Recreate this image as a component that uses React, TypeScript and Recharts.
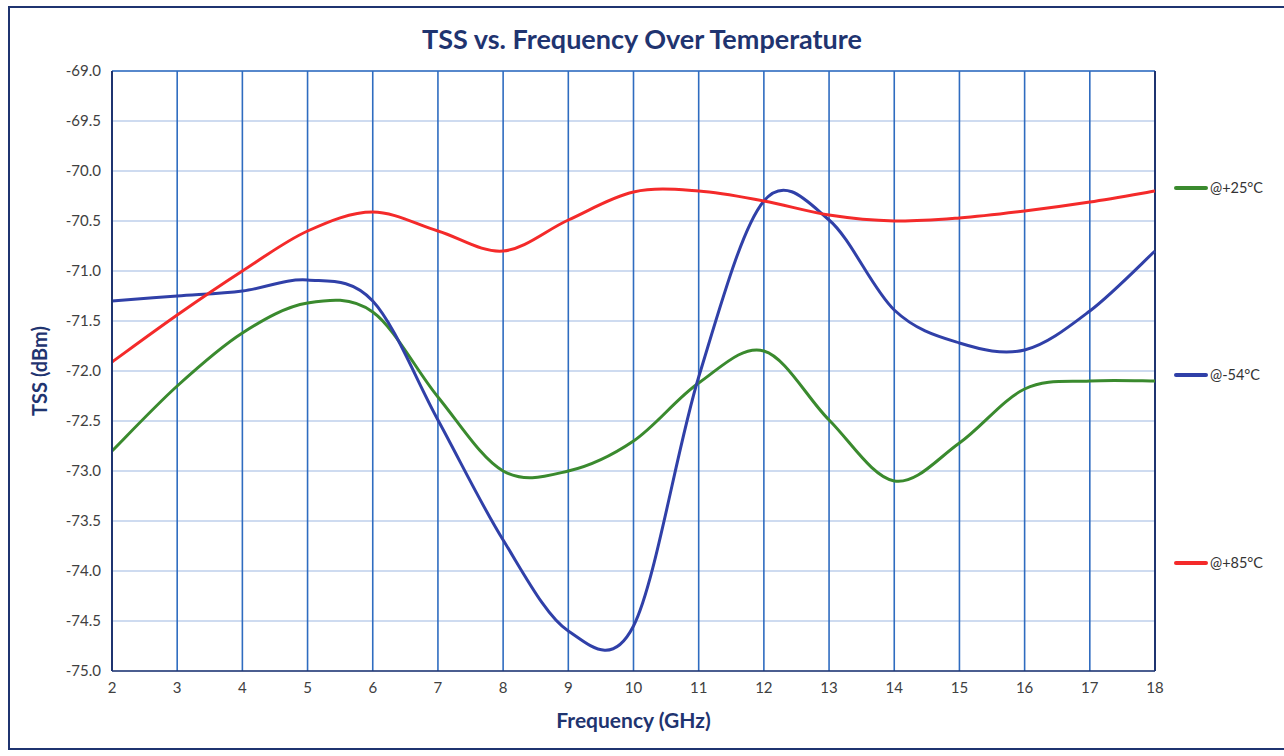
import React from "react";
import {
  LineChart, Line, XAxis, YAxis, CartesianGrid, Legend, ReferenceLine,
} from "recharts";

const freqGHz = [2, 3, 4, 5, 6, 7, 8, 9, 10, 11, 12, 13, 14, 15, 16, 17, 18];
const tssPlus25 = [-72.8, -72.15, -71.62, -71.32, -71.41, -72.26, -73.0, -73.0, -72.7, -72.12, -71.8, -72.49, -73.1, -72.72, -72.18, -72.1, -72.1];
const tssMinus54 = [-71.3, -71.25, -71.2, -71.09, -71.3, -72.49, -73.69, -74.6, -74.55, -72.06, -70.3, -70.49, -71.39, -71.72, -71.79, -71.4, -70.8];
const tssPlus85 = [-71.91, -71.44, -71.0, -70.6, -70.41, -70.6, -70.8, -70.49, -70.21, -70.2, -70.3, -70.44, -70.5, -70.47, -70.4, -70.31, -70.2];
const yTicks = [-75, -74.5, -74, -73.5, -73, -72.5, -72, -71.5, -71, -70.5, -70, -69.5, -69];

const series = [
  { key: "p25", name: "@+25°C", color: "#3a8a2e" },
  { key: "m54", name: "@-54°C", color: "#3040a8" },
  { key: "p85", name: "@+85°C", color: "#f42a2a" },
];

const data = freqGHz.map((f, i) => ({
  f,
  p25: tssPlus25[i],
  m54: tssMinus54[i],
  p85: tssPlus85[i],
}));

// Excel-style smoothed line (uniform Catmull-Rom through the points)
function smoothCurve(context: any) {
  let pts: [number, number][] = [];
  return {
    areaStart() {},
    areaEnd() {},
    lineStart() { pts = []; },
    point(x: number, y: number) { pts.push([+x, +y]); },
    lineEnd() {
      if (!pts.length) return;
      context.moveTo(pts[0][0], pts[0][1]);
      for (let i = 0; i < pts.length - 1; i++) {
        const p0 = pts[i - 1] || pts[i];
        const p1 = pts[i];
        const p2 = pts[i + 1];
        const p3 = pts[i + 2] || p2;
        context.bezierCurveTo(
          p1[0] + (p2[0] - p0[0]) / 6, p1[1] + (p2[1] - p0[1]) / 6,
          p2[0] - (p3[0] - p1[0]) / 6, p2[1] - (p3[1] - p1[1]) / 6,
          p2[0], p2[1],
        );
      }
    },
  };
}

const font = "Lato, 'Open Sans', sans-serif";
const navy = "#1f3470";

function SideLegend() {
  const tops = [179, 366, 554];
  return (
    <div style={{ position: "relative", width: 110, height: 756 }}>
      {series.map((s, i) => (
        <div key={s.key} style={{ position: "absolute", top: tops[i], left: 0, display: "flex", alignItems: "center", fontFamily: font, fontSize: 14.5, color: "#333" }}>
          <span style={{ display: "inline-block", width: 34, height: 4, background: s.color, borderRadius: 2, marginRight: 2 }} />
          {s.name}
        </div>
      ))}
    </div>
  );
}

export default function App() {
  return (
    <div style={{ position: "absolute", left: 0, top: 0, width: 1284, height: 756, background: "#fff" }}>
      <div style={{ position: "absolute", left: 8, top: 6, width: 1290, height: 740, border: `2px solid ${navy}` }} />
      <div style={{ position: "absolute", left: 0, top: 22, width: 1284, textAlign: "center", fontFamily: font, fontWeight: 700, fontSize: 27, color: navy }}>
        TSS vs. Frequency Over Temperature
      </div>
      <div style={{ position: "absolute", left: 0, top: 0 }}>
        <LineChart width={1284} height={756} data={data} margin={{ top: 71, right: 19, bottom: 55, left: 20 }}>
          <CartesianGrid vertical={false} stroke="#9db8e2" strokeWidth={1.2} />
          <CartesianGrid horizontal={false} stroke="#2f6cc0" strokeWidth={1.6} />
          <XAxis
            dataKey="f"
            type="number"
            domain={[2, 18]}
            ticks={freqGHz}
            height={30}
            tickLine={false}
            tickMargin={5}
            axisLine={{ stroke: navy, strokeWidth: 1.5 }}
            tick={{ fontSize: 15, fill: "#404040", fontFamily: font }}
            label={{ value: "Frequency (GHz)", position: "bottom", offset: 12, style: { fontFamily: font, fontWeight: 700, fontSize: 21, fill: navy } }}
          />
          <YAxis
            domain={[-75, -69]}
            ticks={yTicks}
            width={92}
            tickLine={false}
            tickMargin={5}
            axisLine={{ stroke: navy, strokeWidth: 2 }}
            tickFormatter={(v) => v.toFixed(1)}
            tick={{ fontSize: 15, fill: "#404040", fontFamily: font }}
            label={{ value: "TSS (dBm)", angle: -90, position: "insideLeft", offset: 20, style: { textAnchor: "middle", fontFamily: font, fontWeight: 700, fontSize: 20, fill: navy } }}
          />
          <ReferenceLine y={-69} stroke="#2f6cc0" strokeWidth={1.6} />
          <ReferenceLine x={18} stroke={navy} strokeWidth={2} />
          <Legend layout="vertical" align="right" verticalAlign="top" content={<SideLegend />} wrapperStyle={{ top: 0, left: 1174, width: 110 }} />
          {series.map((s) => (
            <Line
              key={s.key}
              dataKey={s.key}
              name={s.name}
              type={smoothCurve as any}
              stroke={s.color}
              strokeWidth={3}
              dot={false}
              activeDot={false}
              isAnimationActive={false}
            />
          ))}
        </LineChart>
      </div>
    </div>
  );
}
